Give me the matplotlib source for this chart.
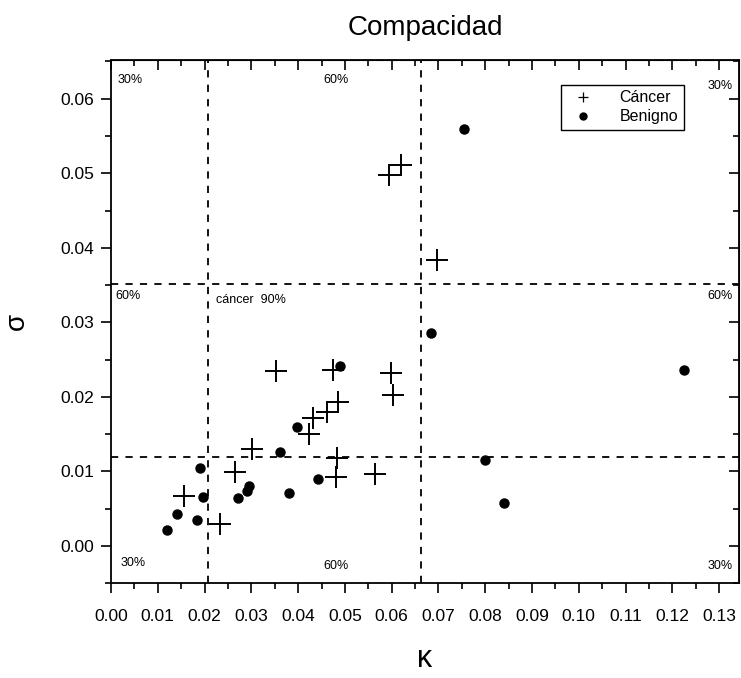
import numpy as np
import matplotlib.pyplot as plt
from matplotlib.lines import Line2D
from matplotlib.ticker import MultipleLocator, FormatStrFormatter

plt.rcParams['font.family'] = ['Liberation Sans', 'DejaVu Sans']

# Cancer points (kappa, sigma)
cancer_k = [0.0595, 0.0620, 0.0697, 0.0352, 0.0475, 0.0598, 0.0603, 0.0486, 0.0462,
            0.0431, 0.0424, 0.0301, 0.0484, 0.0480, 0.0564, 0.0265, 0.0155, 0.0233]
cancer_s = [0.0498, 0.0511, 0.0384, 0.0234, 0.0236, 0.0232, 0.0202, 0.0193, 0.0179,
            0.0171, 0.0150, 0.0130, 0.0118, 0.0093, 0.0096, 0.0099, 0.0067, 0.0029]

# Benign points
benign_k = [0.0489, 0.0397, 0.0361, 0.0190, 0.0443, 0.0380, 0.0197, 0.0296, 0.0290,
            0.0271, 0.0142, 0.0183, 0.0120, 0.0683, 0.1224, 0.0799, 0.0840, 0.0755]
benign_s = [0.0242, 0.0160, 0.0126, 0.0104, 0.0090, 0.0071, 0.0066, 0.0080, 0.0073,
            0.0064, 0.0043, 0.0034, 0.0021, 0.0285, 0.0236, 0.0115, 0.0057, 0.0560]

# threshold lines
k_cuts = [0.0207, 0.0662]
s_cuts = [0.0352, 0.0119]

# region labels: (x, y, text)
region_labels = [
    (0.0015, 0.0625, '30%'), (0.0455, 0.0625, '60%'), (0.1275, 0.0617, '30%'),
    (0.0010, 0.0335, '60%'), (0.0225, 0.0330, 'cáncer  90%'), (0.1275, 0.0335, '60%'),
    (0.0020, -0.0023, '30%'), (0.0455, -0.0027, '60%'), (0.1275, -0.0027, '30%'),
]

fig = plt.figure(figsize=(7.41, 6.78), dpi=100)
ax = fig.add_axes([0.1498, 0.140, 0.8472, 0.7715])

for k in k_cuts:
    ax.axvline(k, color='black', linestyle=(0, (4, 4)), linewidth=1.3)
for s in s_cuts:
    ax.axhline(s, color='black', linestyle=(0, (4, 4)), linewidth=1.3)

ax.plot(cancer_k, cancer_s, linestyle='none', marker='+', markersize=16,
        markeredgewidth=1.4, color='black')
ax.plot(benign_k, benign_s, linestyle='none', marker='o', markersize=6.5,
        color='black')

for x, y, t in region_labels:
    ax.text(x, y, t, fontsize=9, color='black', va='center')

ax.set_xlim(0, 0.1342)
ax.set_ylim(-0.005, 0.0652)
ax.xaxis.set_major_locator(MultipleLocator(0.01))
ax.xaxis.set_minor_locator(MultipleLocator(0.005))
ax.yaxis.set_major_locator(MultipleLocator(0.01))
ax.yaxis.set_minor_locator(MultipleLocator(0.005))
ax.xaxis.set_major_formatter(FormatStrFormatter('%.2f'))
ax.yaxis.set_major_formatter(FormatStrFormatter('%.2f'))

ax.tick_params(which='both', direction='out', labelsize=12.5, width=1.2)
ax.tick_params(which='major', length=7)
ax.tick_params(which='minor', length=4)
ax.tick_params(axis='x', which='major', pad=12)
ax.tick_params(axis='y', which='major', pad=5)

# mirrored ticks on top/right point inward
ax2 = ax.secondary_xaxis('top')
ax2.xaxis.set_major_locator(MultipleLocator(0.01))
ax2.xaxis.set_minor_locator(MultipleLocator(0.005))
ax2.tick_params(which='both', direction='in', labeltop=False, width=1.2)
ax2.tick_params(which='major', length=7)
ax2.tick_params(which='minor', length=4)
ax3 = ax.secondary_yaxis('right')
ax3.yaxis.set_major_locator(MultipleLocator(0.01))
ax3.yaxis.set_minor_locator(MultipleLocator(0.005))
ax3.tick_params(which='both', direction='in', labelright=False, width=1.2)
ax3.tick_params(which='major', length=7)
ax3.tick_params(which='minor', length=4)

for sp in ax.spines.values():
    sp.set_linewidth(1.3)

ax.set_title('Compacidad', fontsize=20, pad=18)
ax.set_xlabel('κ', fontsize=22, labelpad=14)
ax.set_ylabel('σ', fontsize=20, labelpad=22)

handles = [
    Line2D([], [], linestyle='none', marker='+', markersize=7, markeredgewidth=0.9, color='black'),
    Line2D([], [], linestyle='none', marker='o', markersize=5, color='black'),
]
leg = ax.legend(handles, ['Cáncer', 'Benigno'], loc='upper right',
                bbox_to_anchor=(0.925, 0.968), fontsize=11.5, fancybox=False,
                edgecolor='black', framealpha=1, handletextpad=1.3,
                borderpad=0.35, labelspacing=0.25)
leg.get_frame().set_linewidth(1.0)

fig.savefig('out.png', dpi=100)
